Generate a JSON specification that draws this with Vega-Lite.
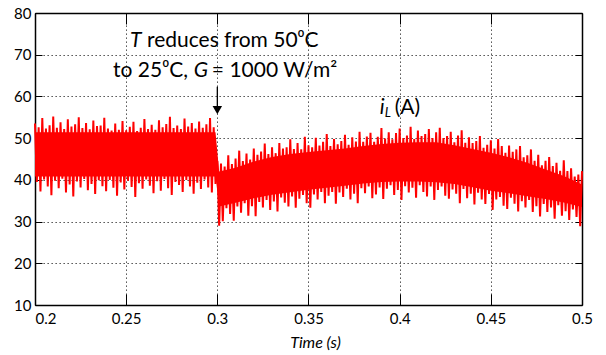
{
  "$schema": "https://vega.github.io/schema/vega-lite/v6.json",
  "width": 547,
  "height": 292,
  "autosize": {"type": "none"},
  "padding": {"left": 35, "top": 13, "right": 24, "bottom": 50},
  "background": "white",
  "config": {"view": {"stroke": null}, "font": "Lato"},
  "resolve": {"axis": {"x": "independent", "y": "independent"}},
  "layer": [
    {
      "data": {"values": [
        {"t":0.2,"lo":40.8,"hi":51.4},{"t":0.299,"lo":40.8,"hi":51.4},
        {"t":0.301,"lo":33.6,"hi":42.0},{"t":0.31,"lo":34.5,"hi":42.9},{"t":0.32,"lo":35.6,"hi":44.4},
        {"t":0.33,"lo":36.4,"hi":45.5},{"t":0.34,"lo":37.0,"hi":46.2},{"t":0.35,"lo":37.6,"hi":46.7},
        {"t":0.36,"lo":38.1,"hi":47.1},{"t":0.37,"lo":38.6,"hi":47.5},{"t":0.38,"lo":39.1,"hi":48.1},
        {"t":0.39,"lo":39.5,"hi":48.6},{"t":0.4,"lo":39.6,"hi":48.9},{"t":0.41,"lo":39.6,"hi":49.0},
        {"t":0.42,"lo":39.4,"hi":49.0},{"t":0.43,"lo":39.0,"hi":48.3},{"t":0.44,"lo":38.2,"hi":47.4},
        {"t":0.45,"lo":37.4,"hi":46.5},{"t":0.46,"lo":36.8,"hi":45.4},{"t":0.47,"lo":36.1,"hi":44.1},
        {"t":0.48,"lo":35.4,"hi":42.5},{"t":0.49,"lo":34.6,"hi":40.9},{"t":0.5,"lo":33.5,"hi":38.9}
      ]},
      "mark": {"type": "area", "color": "#ff0000"},
      "encoding": {
        "x": {"field": "t", "type": "quantitative",
          "scale": {"domain": [0.2, 0.5], "nice": false, "zero": false},
          "axis": {"values": [0.2, 0.25, 0.3, 0.35, 0.4, 0.45, 0.5], "format": "~g",
            "title": "Time (s)", "titleFont": "Lato", "titleFontStyle": "italic", "titleFontWeight": "normal",
            "titleFontSize": 16, "titleColor": "black", "titlePadding": 8, "titleX": 280,
            "labelFontSize": 15, "labelColor": "black", "labelPadding": 17,
            "labelAlign": {"condition": {"test": "datum.value <= 0.2", "value": "left"}, "value": "center"},
            "domainColor": "black", "domainWidth": 1.5, "tickColor": "black", "tickSize": -11, "tickWidth": 1,
            "grid": true, "gridColor": "#000", "gridDash": [1.3, 2.7], "gridWidth": 0.8}},
        "y": {"field": "lo", "type": "quantitative",
          "scale": {"domain": [10, 80], "nice": false, "zero": false},
          "axis": {"values": [10, 20, 30, 40, 50, 60, 70, 80], "title": null,
            "labelFontSize": 15, "labelColor": "black", "labelPadding": 11,
            "domainColor": "black", "domainWidth": 1.5, "tickColor": "black", "tickSize": -7, "tickWidth": 1,
            "grid": true, "gridColor": "#000", "gridDash": [1.3, 2.7], "gridWidth": 0.8}},
        "y2": {"field": "hi"}
      }
    },
    {
      "data": {"values": [
        {"t":0.200,"v":53.5},{"t":0.201,"v":39.5},{"t":0.202,"v":52.6},{"t":0.203,"v":37.2},
        {"t":0.204,"v":54.8},{"t":0.205,"v":40.1},{"t":0.206,"v":52.3},{"t":0.207,"v":38.4},
        {"t":0.208,"v":53.1},{"t":0.209,"v":36.3},{"t":0.210,"v":55.2},{"t":0.211,"v":39.8},
        {"t":0.212,"v":52.5},{"t":0.213,"v":38.0},{"t":0.214,"v":53.8},{"t":0.215,"v":40.3},
        {"t":0.216,"v":52.2},{"t":0.217,"v":37.0},{"t":0.218,"v":54.5},{"t":0.219,"v":38.9},
        {"t":0.220,"v":52.8},{"t":0.221,"v":36.0},{"t":0.222,"v":53.3},{"t":0.223,"v":39.6},
        {"t":0.224,"v":55.0},{"t":0.225,"v":38.2},{"t":0.226,"v":52.4},{"t":0.227,"v":40.2},
        {"t":0.228,"v":53.6},{"t":0.229,"v":37.5},{"t":0.230,"v":52.1},{"t":0.231,"v":39.0},
        {"t":0.232,"v":54.2},{"t":0.233,"v":36.6},{"t":0.234,"v":52.9},{"t":0.235,"v":39.9},
        {"t":0.236,"v":53.0},{"t":0.237,"v":38.5},{"t":0.238,"v":54.9},{"t":0.239,"v":37.3},
        {"t":0.240,"v":52.3},{"t":0.241,"v":40.0},{"t":0.242,"v":51.8},{"t":0.243,"v":38.1},
        {"t":0.244,"v":53.5},{"t":0.245,"v":36.2},{"t":0.246,"v":52.0},{"t":0.247,"v":39.4},
        {"t":0.248,"v":54.1},{"t":0.249,"v":37.7},{"t":0.250,"v":51.9},{"t":0.251,"v":39.8},
        {"t":0.252,"v":52.7},{"t":0.253,"v":38.3},{"t":0.254,"v":53.9},{"t":0.255,"v":35.9},
        {"t":0.256,"v":51.7},{"t":0.257,"v":39.2},{"t":0.258,"v":52.5},{"t":0.259,"v":37.9},
        {"t":0.260,"v":54.6},{"t":0.261,"v":40.1},{"t":0.262,"v":52.2},{"t":0.263,"v":38.6},
        {"t":0.264,"v":53.2},{"t":0.265,"v":36.8},{"t":0.266,"v":52.0},{"t":0.267,"v":39.7},
        {"t":0.268,"v":54.3},{"t":0.269,"v":37.4},{"t":0.270,"v":52.6},{"t":0.271,"v":40.2},
        {"t":0.272,"v":53.4},{"t":0.273,"v":38.0},{"t":0.274,"v":55.1},{"t":0.275,"v":36.4},
        {"t":0.276,"v":52.4},{"t":0.277,"v":39.5},{"t":0.278,"v":53.0},{"t":0.279,"v":38.8},
        {"t":0.280,"v":52.2},{"t":0.281,"v":37.1},{"t":0.282,"v":54.7},{"t":0.283,"v":40.0},
        {"t":0.284,"v":52.8},{"t":0.285,"v":38.4},{"t":0.286,"v":53.6},{"t":0.287,"v":36.7},
        {"t":0.288,"v":52.3},{"t":0.289,"v":39.3},{"t":0.290,"v":54.0},{"t":0.291,"v":37.8},
        {"t":0.292,"v":52.5},{"t":0.293,"v":40.1},{"t":0.294,"v":53.3},{"t":0.295,"v":38.2},
        {"t":0.296,"v":54.8},{"t":0.297,"v":37.0},{"t":0.298,"v":52.6},{"t":0.299,"v":39.0},
        {"t":0.300,"v":44.5},{"t":0.301,"v":29.0},{"t":0.302,"v":43.9},{"t":0.303,"v":30.1},
        {"t":0.304,"v":43.2},{"t":0.305,"v":33.2},{"t":0.306,"v":45.9},{"t":0.307,"v":31.8},
        {"t":0.308,"v":43.8},{"t":0.309,"v":30.2},{"t":0.310,"v":45.1},{"t":0.311,"v":33.6},
        {"t":0.312,"v":47.0},{"t":0.313,"v":32.1},{"t":0.314,"v":44.5},{"t":0.315,"v":34.4},
        {"t":0.316,"v":46.3},{"t":0.317,"v":31.4},{"t":0.318,"v":44.9},{"t":0.319,"v":33.7},
        {"t":0.320,"v":47.5},{"t":0.321,"v":31.3},{"t":0.322,"v":46.0},{"t":0.323,"v":34.7},
        {"t":0.324,"v":46.8},{"t":0.325,"v":33.4},{"t":0.326,"v":48.7},{"t":0.327,"v":35.2},
        {"t":0.328,"v":46.2},{"t":0.329,"v":32.8},{"t":0.330,"v":47.8},{"t":0.331,"v":34.8},
        {"t":0.332,"v":46.4},{"t":0.333,"v":32.4},{"t":0.334,"v":48.8},{"t":0.335,"v":35.8},
        {"t":0.336,"v":47.5},{"t":0.337,"v":34.5},{"t":0.338,"v":47.8},{"t":0.339,"v":33.6},
        {"t":0.340,"v":49.7},{"t":0.341,"v":36.0},{"t":0.342,"v":47.4},{"t":0.343,"v":33.3},
        {"t":0.344,"v":48.8},{"t":0.345,"v":35.5},{"t":0.346,"v":47.3},{"t":0.347,"v":36.4},
        {"t":0.348,"v":50.3},{"t":0.349,"v":34.4},{"t":0.350,"v":48.3},{"t":0.351,"v":33.3},
        {"t":0.352,"v":47.8},{"t":0.353,"v":36.5},{"t":0.354,"v":50.1},{"t":0.355,"v":35.3},
        {"t":0.356,"v":48.2},{"t":0.357,"v":37.1},{"t":0.358,"v":49.1},{"t":0.359,"v":34.4},
        {"t":0.360,"v":51.0},{"t":0.361,"v":36.2},{"t":0.362,"v":48.1},{"t":0.363,"v":37.1},
        {"t":0.364,"v":49.8},{"t":0.365,"v":34.3},{"t":0.366,"v":48.5},{"t":0.367,"v":37.0},
        {"t":0.368,"v":49.3},{"t":0.369,"v":35.9},{"t":0.370,"v":50.8},{"t":0.371,"v":37.9},
        {"t":0.372,"v":48.4},{"t":0.373,"v":35.3},{"t":0.374,"v":50.2},{"t":0.375,"v":36.7},
        {"t":0.376,"v":49.2},{"t":0.377,"v":34.4},{"t":0.378,"v":51.5},{"t":0.379,"v":38.0},
        {"t":0.380,"v":49.1},{"t":0.381,"v":36.8},{"t":0.382,"v":50.4},{"t":0.383,"v":38.4},
        {"t":0.384,"v":51.3},{"t":0.385,"v":35.6},{"t":0.386,"v":49.1},{"t":0.387,"v":36.5},
        {"t":0.388,"v":50.3},{"t":0.389,"v":38.2},{"t":0.390,"v":52.4},{"t":0.391,"v":35.4},
        {"t":0.392,"v":49.9},{"t":0.393,"v":37.9},{"t":0.394,"v":51.4},{"t":0.395,"v":38.7},
        {"t":0.396,"v":49.7},{"t":0.397,"v":36.4},{"t":0.398,"v":51.2},{"t":0.399,"v":37.6},
        {"t":0.400,"v":52.3},{"t":0.401,"v":35.2},{"t":0.402,"v":50.0},{"t":0.403,"v":38.5},
        {"t":0.404,"v":50.6},{"t":0.405,"v":37.0},{"t":0.406,"v":52.7},{"t":0.407,"v":38.1},
        {"t":0.408,"v":49.8},{"t":0.409,"v":35.7},{"t":0.410,"v":51.8},{"t":0.411,"v":38.7},
        {"t":0.412,"v":50.5},{"t":0.413,"v":37.1},{"t":0.414,"v":51.0},{"t":0.415,"v":36.0},
        {"t":0.416,"v":52.2},{"t":0.417,"v":38.4},{"t":0.418,"v":50.0},{"t":0.419,"v":35.2},
        {"t":0.420,"v":51.4},{"t":0.421,"v":37.6},{"t":0.422,"v":52.5},{"t":0.423,"v":38.4},
        {"t":0.424,"v":50.0},{"t":0.425,"v":36.2},{"t":0.426,"v":50.5},{"t":0.427,"v":35.5},
        {"t":0.428,"v":51.5},{"t":0.429,"v":37.7},{"t":0.430,"v":49.0},{"t":0.431,"v":36.7},
        {"t":0.432,"v":50.6},{"t":0.433,"v":34.4},{"t":0.434,"v":51.9},{"t":0.435,"v":37.8},
        {"t":0.436,"v":48.9},{"t":0.437,"v":35.6},{"t":0.438,"v":50.2},{"t":0.439,"v":36.7},
        {"t":0.440,"v":48.8},{"t":0.441,"v":34.1},{"t":0.442,"v":49.3},{"t":0.443,"v":36.9},
        {"t":0.444,"v":50.5},{"t":0.445,"v":35.3},{"t":0.446,"v":47.7},{"t":0.447,"v":34.2},
        {"t":0.448,"v":48.4},{"t":0.449,"v":36.6},{"t":0.450,"v":49.5},{"t":0.451,"v":32.8},
        {"t":0.452,"v":47.5},{"t":0.453,"v":35.3},{"t":0.454,"v":49.8},{"t":0.455,"v":35.9},
        {"t":0.456,"v":48.1},{"t":0.457,"v":33.8},{"t":0.458,"v":46.5},{"t":0.459,"v":33.0},
        {"t":0.460,"v":48.2},{"t":0.461,"v":35.7},{"t":0.462,"v":46.7},{"t":0.463,"v":34.3},
        {"t":0.464,"v":47.3},{"t":0.465,"v":32.4},{"t":0.466,"v":48.1},{"t":0.467,"v":34.9},
        {"t":0.468,"v":45.4},{"t":0.469,"v":33.4},{"t":0.470,"v":45.9},{"t":0.471,"v":35.2},
        {"t":0.472,"v":47.3},{"t":0.473,"v":32.3},{"t":0.474,"v":44.6},{"t":0.475,"v":33.7},
        {"t":0.476,"v":46.0},{"t":0.477,"v":31.2},{"t":0.478,"v":43.5},{"t":0.479,"v":34.2},
        {"t":0.480,"v":44.6},{"t":0.481,"v":32.3},{"t":0.482,"v":45.5},{"t":0.483,"v":33.4},
        {"t":0.484,"v":43.3},{"t":0.485,"v":30.7},{"t":0.486,"v":44.1},{"t":0.487,"v":33.9},
        {"t":0.488,"v":42.2},{"t":0.489,"v":31.4},{"t":0.490,"v":44.7},{"t":0.491,"v":32.5},
        {"t":0.492,"v":42.1},{"t":0.493,"v":30.4},{"t":0.494,"v":42.8},{"t":0.495,"v":32.9},
        {"t":0.496,"v":40.8},{"t":0.497,"v":31.1},{"t":0.498,"v":41.3},{"t":0.499,"v":28.9},
        {"t":0.500,"v":42.1}
      ]},
      "mark": {"type": "line", "color": "#ff0000", "strokeWidth": 2},
      "encoding": {
        "x": {"field": "t", "type": "quantitative", "axis": null},
        "y": {"field": "v", "type": "quantitative", "axis": null}
      }
    },
    {
      "data": {"values": [{"t": 0.3, "v": 62.3, "v2": 57.6}]},
      "mark": {"type": "rule", "color": "black", "strokeWidth": 1.3},
      "encoding": {
        "x": {"field": "t", "type": "quantitative",
          "axis": {"orient": "top", "values": [0.2, 0.25, 0.3, 0.35, 0.4, 0.45, 0.5], "labels": false, "title": null,
            "grid": false, "domainColor": "black", "domainWidth": 1.5, "tickColor": "black", "tickSize": -11, "tickWidth": 1}},
        "y": {"field": "v", "type": "quantitative",
          "axis": {"orient": "right", "values": [10, 20, 30, 40, 50, 60, 70, 80], "labels": false, "title": null,
            "grid": false, "domainColor": "black", "domainWidth": 1.5, "tickColor": "black", "tickSize": -7, "tickWidth": 1}},
        "y2": {"field": "v2"}
      }
    },
    {
      "data": {"values": [{"t": 0.3, "v": 56.7}]},
      "mark": {"type": "point", "shape": "triangle-down", "filled": true, "color": "black", "size": 90, "opacity": 1},
      "encoding": {
        "x": {"field": "t", "type": "quantitative", "axis": null},
        "y": {"field": "v", "type": "quantitative", "axis": null}
      }
    },
    {
      "data": {"values": [
        {"t": 0.2614, "v": 71.9, "s": "reduces from 50⁰C"},
        {"t": 0.2428, "v": 64.7, "s": "to 25⁰C,"},
        {"t": 0.2970, "v": 64.7, "s": "= 1000 W/m²"},
        {"t": 0.3973, "v": 55.8, "s": "(A)"}
      ]},
      "mark": {"type": "text", "font": "Lato", "fontSize": 21, "color": "black", "align": "left", "baseline": "alphabetic"},
      "encoding": {
        "x": {"field": "t", "type": "quantitative", "axis": null},
        "y": {"field": "v", "type": "quantitative", "axis": null},
        "text": {"field": "s"}
      }
    },
    {
      "data": {"values": [
        {"t": 0.2521, "v": 71.9, "s": "T"},
        {"t": 0.2870, "v": 64.7, "s": "G"},
        {"t": 0.3891, "v": 55.8, "s": "i"}
      ]},
      "mark": {"type": "text", "font": "Lato", "fontSize": 21, "fontStyle": "italic", "color": "black", "align": "left", "baseline": "alphabetic"},
      "encoding": {
        "x": {"field": "t", "type": "quantitative", "axis": null},
        "y": {"field": "v", "type": "quantitative", "axis": null},
        "text": {"field": "s"}
      }
    },
    {
      "data": {"values": [{"t": 0.3918, "v": 54.95, "s": "L"}]},
      "mark": {"type": "text", "font": "Lato", "fontSize": 13, "fontStyle": "italic", "color": "black", "align": "left", "baseline": "alphabetic"},
      "encoding": {
        "x": {"field": "t", "type": "quantitative", "axis": null},
        "y": {"field": "v", "type": "quantitative", "axis": null},
        "text": {"field": "s"}
      }
    }
  ]
}
